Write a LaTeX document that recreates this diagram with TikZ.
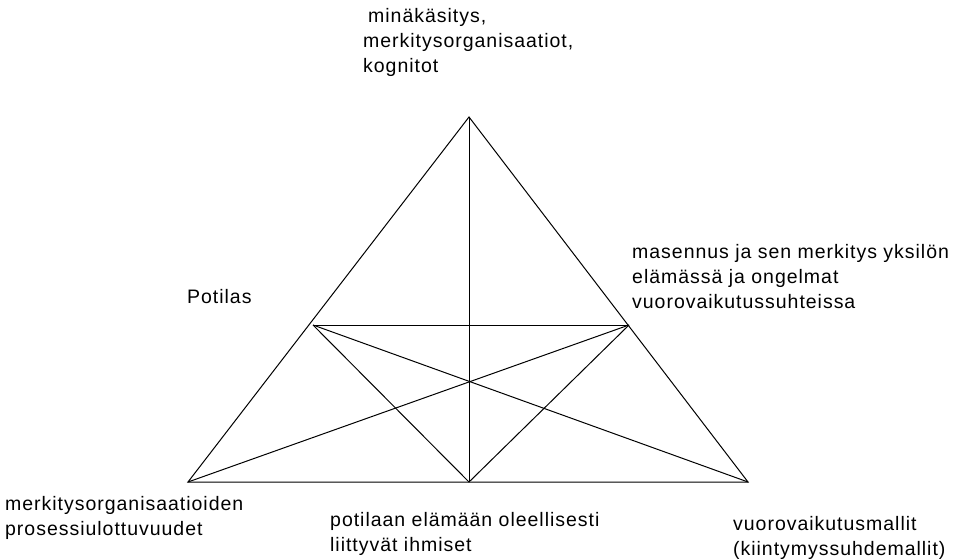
\documentclass[tikz,border=0pt]{standalone}
\usepackage{fontspec}
\setmainfont{Liberation Sans}[LetterSpace=5]
\begin{document}
\begin{tikzpicture}[x=1pt,y=-1pt,
  edge/.style={draw=black,line width=1pt},
  lbl/.style={anchor=north west,align=left,inner sep=0pt,font=\fontsize{19.5}{25}\selectfont}]
\useasboundingbox (0,0) rectangle (955,559);
\coordinate (A) at (469,117);
\coordinate (BL) at (188,482);
\coordinate (BR) at (748,482);
\coordinate (BM) at (469,482);
\coordinate (ML) at (313,325);
\coordinate (MR) at (629,325);
\draw[edge] (BL) -- (A) -- (BR) -- cycle;
\draw[edge] (A) -- (BM);
\draw[edge] (ML) -- (MR);
\draw[edge] (ML) -- (BM) -- (MR);
\draw[edge] (ML) -- (BR);
\draw[edge] (MR) -- (BL);
\node[lbl] (top) at (363,8) {\hspace*{5pt}minäkäsitys,\\merkitysorganisaatiot,\\kognitot};
\node[lbl] (right) at (632,244) {masennus ja sen merkitys yksilön\\elämässä ja ongelmat\\vuorovaikutussuhteissa};
\node[lbl] (pot) at (187,289) {Potilas};
\node[lbl] (bl) at (5,496) {merkitysorganisaatioiden\\prosessiulottuvuudet};
\node[lbl] (bm) at (330,512) {potilaan elämään oleellisesti\\liittyvät ihmiset};
\node[lbl] (br) at (733,516) {vuorovaikutusmallit\\(kiintymyssuhdemallit)};
\end{tikzpicture}
\end{document}
